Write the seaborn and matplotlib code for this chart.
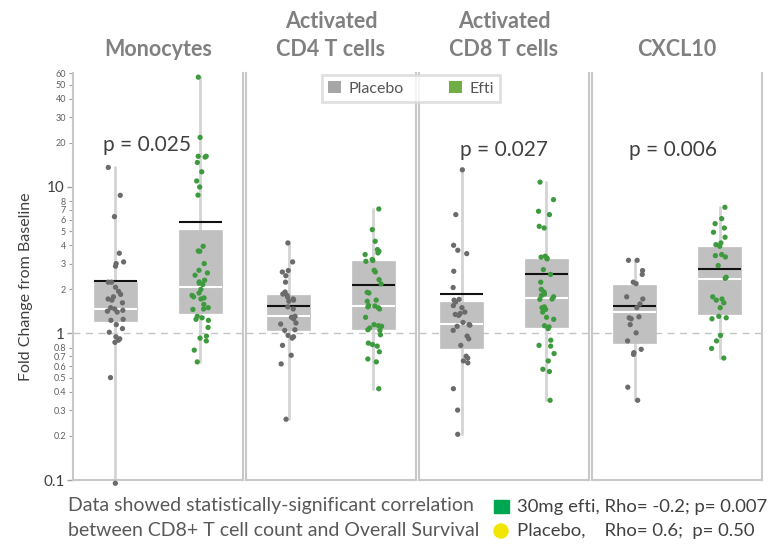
import numpy as np
import pandas as pd
import matplotlib
matplotlib.use("Agg")
import matplotlib.pyplot as plt
from matplotlib.patches import Patch, Rectangle, Ellipse
from matplotlib.ticker import FixedLocator, FixedFormatter, NullFormatter
import seaborn as sns

# ---------------- data ----------------
panels = ["Monocytes", "Activated\nCD4 T cells", "Activated\nCD8 T cells", "CXCL10"]
groups = ["Placebo", "Efti"]
p_texts = ["p = 0.025", "", "p = 0.027", "p = 0.006"]

mono_placebo = [13.6, 8.77, 6.28, 3.53, 3.08, 3.0, 2.88, 2.24, 2.24, 2.07, 1.94, 1.85, 1.78,
                1.72, 1.69, 1.62, 1.50, 1.47, 1.44, 1.42, 1.40, 1.25, 1.23, 1.15, 1.08, 1.02,
                0.95, 0.92, 0.90, 0.87, 0.50, 0.095]
mono_efti = [56.2, 21.8, 16.2, 16.2, 16.0, 14.7, 12.7, 11.0, 10.0, 8.8, 3.94, 3.66, 3.64, 3.0,
             2.70, 2.59, 2.50, 2.31, 2.25, 2.21, 2.16, 2.0, 1.89, 1.82, 1.78, 1.75, 1.72, 1.58,
             1.50, 1.47, 1.46, 1.31, 1.28, 1.25, 1.23, 1.10, 0.96, 0.93, 0.89, 0.77, 0.64]
cd4_placebo = [4.15, 3.08, 2.69, 2.63, 2.48, 2.24, 1.92, 1.86, 1.82, 1.77, 1.72, 1.69, 1.66,
               1.52, 1.47, 1.31, 1.29, 1.26, 1.18, 1.16, 1.06, 1.05, 0.97, 0.95, 0.93, 0.83,
               0.71, 0.62, 0.26]
cd4_efti = [7.08, 5.12, 4.26, 3.74, 3.64, 3.55, 3.46, 3.20, 3.15, 3.11, 2.70, 2.63, 2.33, 2.18,
            1.91, 1.89, 1.69, 1.66, 1.55, 1.54, 1.52, 1.50, 1.47, 1.29, 1.15, 1.13, 1.12, 1.09,
            1.06, 1.05, 0.98, 0.86, 0.84, 0.82, 0.75, 0.67, 0.64, 0.42]
cd8_placebo = [13.1, 6.48, 4.0, 3.70, 3.51, 2.66, 2.06, 1.71, 1.69, 1.64, 1.55, 1.50, 1.40,
               1.37, 1.35, 1.33, 1.19, 1.15, 1.14, 1.12, 1.05, 0.96, 0.92, 0.83, 0.70, 0.68,
               0.65, 0.63, 0.42, 0.30, 0.205]
cd8_efti = [10.8, 8.2, 6.83, 6.48, 5.39, 5.25, 3.37, 3.32, 3.28, 3.23, 2.73, 2.53, 2.24, 2.0,
            1.92, 1.86, 1.82, 1.78, 1.72, 1.71, 1.52, 1.50, 1.46, 1.40, 1.29, 1.25, 1.13, 1.11,
            1.08, 0.90, 0.83, 0.82, 0.73, 0.65, 0.57, 0.55, 0.35]
cxcl_placebo = [3.16, 3.16, 2.69, 2.53, 2.24, 2.19, 1.78, 1.72, 1.59, 1.50, 1.30, 1.28, 1.26,
                1.15, 1.01, 0.89, 0.78, 0.74, 0.72, 0.43, 0.35]
cxcl_efti = [7.27, 6.08, 5.62, 5.25, 4.91, 4.54, 4.15, 4.04, 3.94, 3.46, 3.40, 3.33, 2.91, 2.42,
             2.38, 1.78, 1.72, 1.69, 1.62, 1.50, 1.31, 1.28, 1.26, 0.97, 0.89, 0.79, 0.68]

# box summary values: [placebo, efti] per panel
box_q1 = [[1.21, 1.38], [1.05, 1.08], [0.79, 1.10], [0.86, 1.35]]
box_median = [[1.47, 2.07], [1.31, 1.55], [1.16, 1.74], [1.40, 2.37]]
box_q3 = [[2.24, 5.12], [1.82, 3.11], [1.64, 3.23], [2.16, 3.88]]
box_mean = [[2.30, 5.77], [1.54, 2.15], [1.85, 2.53], [1.55, 2.77]]

major_ticks = [0.1, 1, 10]
major_labels = ["0.1", "1", "10"]
minor_ticks = [0.2, 0.3, 0.4, 0.5, 0.6, 0.7, 0.8, 2, 3, 4, 5, 6, 7, 8, 20, 30, 40, 50, 60]
minor_labels = ["0.2", "0.3", "0.4", "0.5", "0.6", "0.7", "0.8", "2", "3", "4", "5", "6", "7",
                "8", "20", "30", "40", "50", "60"]

series = [(mono_placebo, mono_efti), (cd4_placebo, cd4_efti),
          (cd8_placebo, cd8_efti), (cxcl_placebo, cxcl_efti)]
rows = []
for pi, (pl, ef) in enumerate(series):
    rows += [(panels[pi], "Placebo", v) for v in pl]
    rows += [(panels[pi], "Efti", v) for v in ef]
df = pd.DataFrame(rows, columns=["panel", "group", "value"])

# ---------------- style ----------------
sns.set_style("white")
plt.rcParams["font.family"] = ["Lato", "DejaVu Sans"]

BOX = "#c0c0c0"
WHISK = "#d4d4d4"
SPINE = "#c8c8c8"
pt_colors = {"Placebo": "#6b6b6b", "Efti": "#3e9a3e"}

fig = plt.figure(figsize=(7.8, 5.45), dpi=100)
L, R = 73 / 780, 762 / 780
B, T = 1 - 480 / 545, 1 - 73 / 545
axes = fig.subplots(1, 4, sharey=False,
                    gridspec_kw=dict(left=L, right=R, bottom=B, top=T, wspace=0.0177))

np.random.seed(7)
for pi, ax in enumerate(axes):
    sub = df[df["panel"] == panels[pi]]
    sns.stripplot(data=sub, x="group", y="value", hue="group", order=groups,
                  hue_order=groups, palette=pt_colors, jitter=0.1, size=3.8,
                  linewidth=0, log_scale=True, legend=False, ax=ax, zorder=4,
                  clip_on=False)
    stats = []
    for gi, g in enumerate(groups):
        vals = np.array(series[pi][gi])
        stats.append(dict(med=box_median[pi][gi], q1=box_q1[pi][gi], q3=box_q3[pi][gi],
                          whislo=vals.min(), whishi=vals.max(), mean=box_mean[pi][gi],
                          fliers=[]))
    ax.bxp(stats, positions=[0, 1], widths=0.5, patch_artist=True, showcaps=False,
           showfliers=False, showmeans=True, meanline=True, manage_ticks=False,
           boxprops=dict(facecolor=BOX, edgecolor=BOX, linewidth=0.5, zorder=2),
           whiskerprops=dict(color=WHISK, linewidth=2, zorder=1),
           medianprops=dict(color="white", linewidth=1.5, zorder=3),
           meanprops=dict(color="#111111", linewidth=1.5, linestyle="-", zorder=3))
    ax.axhline(1, color="#c4c4c4", linestyle=(0, (5, 4)), linewidth=1, zorder=0)
    ax.set_yscale("log")
    ax.set_ylim(0.1, 60)
    ax.set_xlim(-0.5, 1.5)
    ax.set_xlabel("")
    ax.set_ylabel("")
    ax.set_xticks([])
    ax.set_title(panels[pi], fontsize=15.5, fontweight="bold", color="#808080", pad=12,
                 linespacing=1.45)
    for side in ["left", "right", "bottom"]:
        ax.spines[side].set_visible(True)
        ax.spines[side].set_color(SPINE)
        ax.spines[side].set_linewidth(1.5)
    ax.spines["top"].set_visible(False)
    if p_texts[pi]:
        xpos = [0.37, 0.5, 0.5, 0.45][pi]
        ypos = [19.5, 18, 18, 18][pi]
        ax.text(xpos, ypos, p_texts[pi], ha="center", va="center", fontsize=15,
                color="#404040", zorder=5)
    if pi == 0:
        ax.yaxis.set_major_locator(FixedLocator(major_ticks))
        ax.yaxis.set_major_formatter(FixedFormatter(major_labels))
        ax.yaxis.set_minor_locator(FixedLocator(minor_ticks))
        ax.yaxis.set_minor_formatter(FixedFormatter(minor_labels))
        ax.tick_params(axis="y", which="major", labelsize=11, length=4, width=1,
                       color="#a0a0a0", labelcolor="#404040", pad=2, left=True)
        ax.tick_params(axis="y", which="minor", labelsize=6.5, length=3, width=0.8,
                       color="#a0a0a0", labelcolor="#606060", pad=2, left=True)
        ax.set_ylabel("Fold Change from Baseline", fontsize=11.5, color="#404040")
        ax.yaxis.set_label_coords(-0.235, 0.474)
    else:
        ax.yaxis.set_major_locator(FixedLocator([]))
        ax.yaxis.set_minor_locator(FixedLocator([]))
        ax.yaxis.set_minor_formatter(NullFormatter())

# legend at top
handles = [Patch(facecolor="#a6a6a6", edgecolor="none", label="Placebo"),
           Patch(facecolor="#70ad47", edgecolor="none", label="Efti")]
leg = fig.legend(handles=handles, loc="upper center", bbox_to_anchor=(411 / 780, 1 - 70 / 545),
                 ncol=2, fontsize=11.5, frameon=True, fancybox=False, handlelength=0.8,
                 handleheight=0.8, columnspacing=2.8, handletextpad=0.5,
                 borderpad=0.4, borderaxespad=0.3, labelcolor="#555555")
leg.get_frame().set_edgecolor("#d9d9d9")
leg.get_frame().set_linewidth(2)

# bottom text
fig.text(68 / 780, 1 - 505 / 545, "Data showed statistically-significant correlation",
         fontsize=14, color="#595959", va="center", ha="left")
fig.text(68 / 780, 1 - 531 / 545, "between CD8+ T cell count and Overall Survival",
         fontsize=14, color="#595959", va="center", ha="left")
fig.patches.append(Rectangle((494 / 780, 1 - 513 / 545), 15 / 780, 13 / 545,
                             transform=fig.transFigure, color="#00a650"))
fig.patches.append(Ellipse((501 / 780, 1 - 531 / 545), 14 / 780, 14 / 545,
                           transform=fig.transFigure, color="#f2e600"))
fig.text(517 / 780, 1 - 507 / 545, "30mg efti, Rho= -0.2; p= 0.007", fontsize=13.3,
         color="#404040", va="center", ha="left")
fig.text(517 / 780, 1 - 531 / 545, "Placebo,    Rho= 0.6;  p= 0.50", fontsize=13.3,
         color="#404040", va="center", ha="left")

fig.savefig("out.png", dpi=100)
